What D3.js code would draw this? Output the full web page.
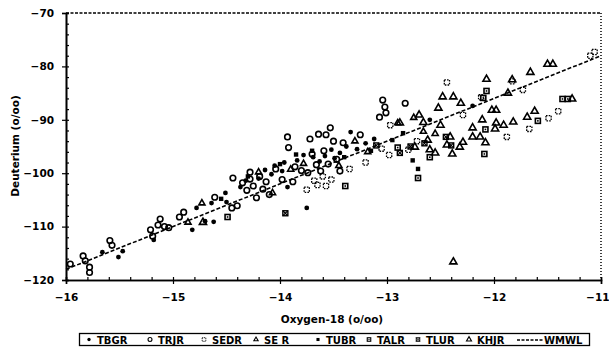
<!DOCTYPE html>
<html>
<head>
<meta charset="utf-8">
<script src="https://cdn.jsdelivr.net/npm/d3@7"></script>
<style>
  body { margin: 0; background: #fff; }
  svg { display: block; }
  text { font-family: "DejaVu Sans", Arial, sans-serif; font-weight: bold; fill: #000; }
</style>
</head>
<body>
<svg width="609" height="351"></svg>
<script>
// series: [oxygen-18, deuterium]
const TBGR = [[-15.66,-114.8],[-15.51,-115.7],[-15.47,-114.6],[-15.18,-112.5],[-14.82,-110.6],[-14.78,-106.5],[-14.64,-105.6],[-14.51,-103.7],[-14.50,-105.4],[-14.37,-102.6],[-14.32,-101.4],[-14.20,-101.0],[-14.08,-100.2],[-13.98,-99.6],[-13.93,-102.6],[-13.84,-97.6],[-13.75,-106.5],[-13.69,-97.0],[-13.58,-96.8],[-13.52,-95.6],[-13.44,-96.2],[-13.34,-92.3],[-13.28,-95.5],[-13.20,-94.4],[-13.12,-93.6],[-12.60,-90.0],[-12.20,-87.4],[-14.62,-109.1],[-14.70,-109.0],[-14.05,-98.6],[-14.14,-99.4],[-13.96,-98.0],[-13.78,-96.6],[-13.63,-97.8],[-13.49,-97.2],[-13.38,-95.0]]
const TRJR = [[-15.96,-117.0],[-15.84,-115.5],[-15.82,-116.4],[-15.78,-117.6],[-15.78,-118.6],[-15.59,-112.6],[-15.57,-113.5],[-15.21,-110.6],[-15.19,-111.8],[-15.14,-109.7],[-15.12,-108.6],[-15.08,-110.0],[-15.04,-110.2],[-14.94,-108.2],[-14.90,-107.3],[-14.61,-104.5],[-14.45,-106.5],[-14.40,-106.1],[-14.44,-100.9],[-14.35,-101.8],[-14.31,-103.2],[-14.28,-101.1],[-14.25,-102.4],[-14.22,-104.6],[-14.19,-100.6],[-14.16,-103.0],[-14.13,-101.6],[-14.10,-104.0],[-13.93,-93.2],[-13.92,-95.2],[-13.88,-101.6],[-13.80,-99.5],[-13.72,-93.6],[-13.66,-98.4],[-13.64,-92.7],[-13.57,-92.8],[-13.53,-91.5],[-13.50,-94.0],[-13.47,-97.4],[-13.41,-94.3],[-13.25,-92.8],[-13.07,-89.5],[-13.01,-88.7],[-13.04,-86.3],[-13.02,-87.6],[-12.83,-86.9],[-13.62,-99.6],[-13.55,-98.3],[-14.04,-99.2],[-14.28,-99.8],[-13.98,-101.2],[-13.86,-98.8],[-13.74,-99.9],[-13.70,-96.4],[-13.59,-95.8],[-13.44,-99.6]]
const SEDR = [[-13.75,-103.1],[-13.68,-101.4],[-13.65,-102.2],[-13.57,-102.4],[-13.60,-100.6],[-13.52,-101.2],[-13.35,-99.2],[-13.20,-98.0],[-12.97,-91.0],[-12.80,-95.6],[-12.72,-94.0],[-12.44,-83.0],[-12.29,-89.1],[-12.12,-85.8],[-11.88,-93.2],[-11.67,-91.7],[-11.73,-84.4],[-11.83,-82.8],[-11.49,-89.7],[-11.40,-88.4],[-11.06,-77.3],[-11.10,-78.0],[-12.98,-96.6],[-13.05,-95.4]]
const SEBR = [[-14.86,-109.2],[-14.73,-105.6],[-14.20,-99.8],[-14.07,-103.7],[-13.90,-99.3],[-13.78,-98.2],[-13.45,-98.6],[-13.30,-94.0],[-13.18,-96.0],[-12.90,-90.6],[-12.75,-89.6],[-12.66,-92.2],[-12.55,-92.6]]
const TUBR = [[-14.55,-104.8],[-14.30,-100.6],[-14.00,-98.3],[-13.85,-96.5],[-13.70,-95.8],[-13.40,-97.0],[-13.15,-95.8],[-12.95,-93.8],[-12.85,-92.5],[-12.76,-97.6],[-12.71,-99.2]]
const TALR = [[-14.49,-108.2],[-13.39,-102.4],[-12.90,-95.2],[-12.71,-100.9],[-12.60,-97.0],[-12.09,-96.4],[-12.07,-84.6],[-12.10,-85.9],[-11.59,-90.2],[-11.36,-86.1],[-11.31,-86.1],[-12.08,-91.8]]
const TLUR = [[-13.95,-107.5],[-13.10,-94.8],[-12.88,-96.2],[-12.78,-95.0],[-12.65,-94.4],[-12.45,-93.2],[-12.40,-94.8]]
const KHJR = [[-14.72,-109.2],[-12.88,-90.6],[-12.70,-89.1],[-12.66,-90.5],[-12.74,-95.1],[-12.62,-93.8],[-12.60,-95.6],[-12.55,-96.2],[-12.52,-87.8],[-12.48,-85.7],[-12.41,-93.2],[-12.44,-94.7],[-12.39,-96.4],[-12.38,-85.7],[-12.31,-86.9],[-12.29,-94.2],[-12.32,-95.1],[-12.20,-93.2],[-12.13,-93.2],[-12.08,-94.3],[-12.07,-82.4],[-12.11,-90.0],[-12.02,-88.2],[-11.98,-88.2],[-11.98,-90.6],[-11.91,-91.0],[-11.82,-90.4],[-11.99,-91.7],[-11.87,-85.0],[-11.83,-82.5],[-11.66,-81.1],[-11.62,-88.4],[-11.69,-89.5],[-11.50,-79.6],[-11.45,-79.6],[-11.27,-86.1],[-12.38,-116.6],[-12.50,-91.0],[-12.20,-91.5]]
// world meteoric water line dD = 8*d18O + 10
const WMWL = [-16, -11]
const xTicks = [-16, -15, -14, -13, -12, -11]
const yTicks = [-70, -80, -90, -100, -110, -120]

const svg = d3.select("svg")
const x = d3.scaleLinear().domain([-16, -11]).range([66, 601])
const y = d3.scaleLinear().domain([-120, -70]).range([280, 13])

// top dashed border, right dotted border
svg.append("line").attr("x1", x(-16)).attr("x2", x(-11)).attr("y1", y(-70)).attr("y2", y(-70))
	.attr("stroke", "#000").attr("stroke-width", 1.3).attr("stroke-dasharray", "3,1.5")
svg.append("line").attr("x1", x(-11)).attr("x2", x(-11)).attr("y1", y(-70)).attr("y2", y(-120))
	.attr("stroke", "#000").attr("stroke-width", 1.5).attr("stroke-dasharray", "1,2")

// axes
const minorY = d3.range(-120, -69, 2)
const minorX = d3.range(-16, -10.99, 0.2)
svg.append("g").attr("transform", `translate(${x(-16)},0)`)
	.call(d3.axisRight(y).tickValues(minorY).tickSize(3).tickFormat(""))
svg.append("g").attr("transform", `translate(${x(-16)},0)`)
	.call(d3.axisLeft(y).tickValues(yTicks).tickSize(4).tickPadding(8).tickFormat(d3.format("d")))
svg.append("g").attr("transform", `translate(0,${y(-120)})`)
	.call(d3.axisTop(x).tickValues(minorX).tickSize(3).tickFormat(""))
const xAxis = svg.append("g").attr("transform", `translate(0,${y(-120)})`)
	.call(d3.axisBottom(x).tickValues(xTicks).tickSize(4).tickPadding(10).tickFormat(d3.format("d")))
svg.selectAll(".domain").attr("stroke-width", 1.6)
svg.selectAll(".tick line").attr("stroke-width", 1.2)
svg.selectAll(".tick text").style("font-size", "10.5px").style("font-family", null)
// last label sits at the right edge of the page
xAxis.selectAll(".tick text").filter(d => d === -11).attr("text-anchor", "end").attr("x", 8)

// axis titles
svg.append("text").attr("x", 332).attr("y", 323).attr("text-anchor", "middle")
	.style("font-size", "10.5px").text("Oxygen-18 (o/oo)")
svg.append("text").attr("transform", "translate(19,146) rotate(-90)").attr("text-anchor", "middle")
	.style("font-size", "10.5px").text("Deuterium (o/oo)")

// WMWL line
svg.append("line")
	.attr("x1", x(WMWL[0])).attr("y1", y(8 * WMWL[0] + 10))
	.attr("x2", x(WMWL[1])).attr("y2", y(8 * WMWL[1] + 10))
	.attr("stroke", "#000").attr("stroke-width", 1.6).attr("stroke-dasharray", "4,2")

// marker drawing
const tri = d3.symbol().type(d3.symbolTriangle)
function drawMarker(g, kind) {
	if (kind === "TBGR") {
		g.append("circle").attr("r", 2.4).attr("fill", "#000")
	} else if (kind === "TRJR") {
		g.append("circle").attr("r", 2.8).attr("fill", "none").attr("stroke", "#000").attr("stroke-width", 1.6)
	} else if (kind === "SEDR") {
		g.append("rect").attr("x", -2.6).attr("y", -2.6).attr("width", 5.2).attr("height", 5.2)
			.attr("fill", "none").attr("stroke", "#000").attr("stroke-width", 1.3).attr("stroke-dasharray", "1.6,1.1")
	} else if (kind === "SEBR") {
		g.append("path").attr("d", tri.size(16)()).attr("fill", "none").attr("stroke", "#000").attr("stroke-width", 1.6)
	} else if (kind === "TUBR") {
		g.append("rect").attr("x", -2.2).attr("y", -2.2).attr("width", 4.4).attr("height", 4.4).attr("fill", "#000")
	} else if (kind === "TALR") {
		g.append("rect").attr("x", -2.5).attr("y", -2.5).attr("width", 5).attr("height", 5)
			.attr("fill", "none").attr("stroke", "#000").attr("stroke-width", 1.6)
		g.append("rect").attr("x", -0.8).attr("y", -0.8).attr("width", 1.6).attr("height", 1.6).attr("fill", "#000")
	} else if (kind === "TLUR") {
		g.append("rect").attr("x", -2.5).attr("y", -2.5).attr("width", 5).attr("height", 5)
			.attr("fill", "none").attr("stroke", "#000").attr("stroke-width", 1.4)
		g.append("path").attr("d", "M-2.5,-2.5L2.5,2.5M2.5,-2.5L-2.5,2.5").attr("stroke", "#000").attr("stroke-width", 1.1)
	} else if (kind === "KHJR") {
		g.append("path").attr("d", tri.size(22)()).attr("fill", "none").attr("stroke", "#000").attr("stroke-width", 1.6)
	}
}

const series = [
	["TBGR", TBGR], ["TRJR", TRJR], ["SEDR", SEDR], ["SEBR", SEBR],
	["TUBR", TUBR], ["TALR", TALR], ["TLUR", TLUR], ["KHJR", KHJR]
]
for (const [name, pts] of series) {
	svg.append("g").attr("class", name)
		.selectAll("g")
		.data(pts)
		.enter()
		.append("g")
		.attr("transform", d => `translate(${x(d[0])},${y(d[1])})`)
		.each(function () { drawMarker(d3.select(this), name) })
}

// legend
const legendNames = ["TBGR", "TRJR", "SEDR", "SE R", "TUBR", "TALR", "TLUR", "KHJR"]
const legendKinds = ["TBGR", "TRJR", "SEDR", "SEBR", "TUBR", "TALR", "TLUR", "KHJR"]
const legendX = [89, 150, 204, 256, 318, 369, 418, 469]
const legend = svg.append("g")
legend.append("rect").attr("x", 79.5).attr("y", 333.5).attr("width", 510).attr("height", 12)
	.attr("fill", "none").attr("stroke", "#000").attr("stroke-width", 1.3)
legendNames.forEach((n, i) => {
	const g = legend.append("g").attr("transform", `translate(${legendX[i]},339.5) scale(0.7)`)
	drawMarker(g, legendKinds[i])
	legend.append("text").attr("x", legendX[i] + 8).attr("y", 343.5).style("font-size", "10px").text(n)
})
legend.append("line").attr("x1", 517).attr("x2", 543).attr("y1", 340).attr("y2", 340)
	.attr("stroke", "#000").attr("stroke-width", 1.3).attr("stroke-dasharray", "3,1.5")
legend.append("text").attr("x", 544).attr("y", 343.5).style("font-size", "10px").text("WMWL")
</script>
</body>
</html>
